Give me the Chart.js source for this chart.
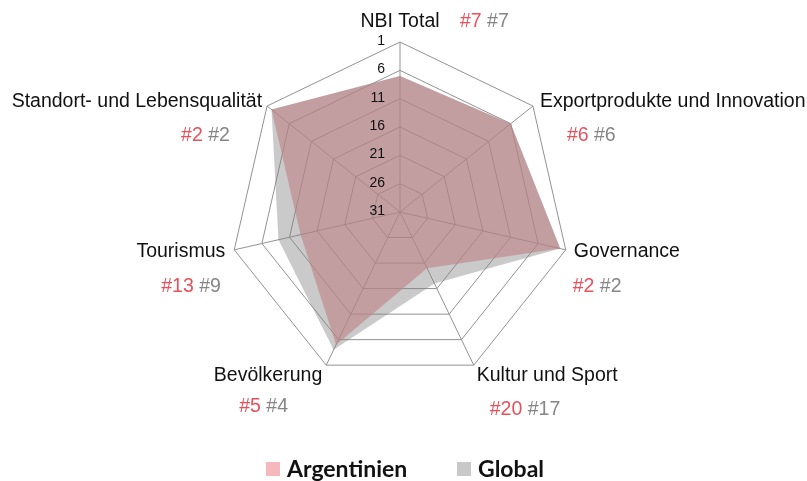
<!DOCTYPE html>
<html>
<head>
<meta charset="utf-8">
<script src="https://cdn.jsdelivr.net/npm/chart.js@4"></script>
<style>
  html, body { margin: 0; padding: 0; background: #fff; }
  #wrap { width: 807px; height: 481px; }
</style>
</head>
<body>
<div id="wrap"><canvas id="myChart" width="807" height="481"></canvas></div>
<script>
"use strict";

// data (ranks, 1 = best)
const categories = ["NBI Total", "Exportprodukte und Innovation", "Governance", "Kultur und Sport", "Bevölkerung", "Tourismus", "Standort- und Lebensqualität"];
const argentinien = [7, 6, 2, 20, 5, 13, 2];
const global = [7, 6, 2, 17, 4, 9, 2];
const tickValues = [1, 6, 11, 16, 21, 26, 31];
const seriesNames = ["Argentinien", "Global"];

// where the label texts sit, relative to each axis end
// [name dx, name dy, name align, rank dx, rank dy]
const labelLayout = [
  [0, -20, "center", 60, -20],
  [7, -4, "left", 34, 30],
  [8, 2, "left", 7, 37],
  [3, 10, "left", 16, 44],
  [-4, 10, "right", -87, 41],
  [-9, 2, "right", -73, 37],
  [-5, -4, "right", -86, 30]
];

const RED = "#e8505b";
const GREY_TXT = "#858585";
const LABEL_FONT = "19.5px 'Liberation Sans', Arial, sans-serif";

const labelsPlugin = {
  id: "labelsPlugin",
  afterDraw(chart) {
    const ctx = chart.ctx;
    const scale = chart.scales.r;
    ctx.save();

    // tick numbers on the vertical axis
    ctx.font = "14px 'Liberation Sans', Arial, sans-serif";
    ctx.fillStyle = "#111";
    ctx.textAlign = "right";
    ctx.textBaseline = "middle";
    tickValues.forEach((v) => {
      const d = scale.getDistanceFromCenterForValue(v);
      ctx.fillText(String(v), scale.xCenter - 15, scale.yCenter - d - 1);
    });

    // category names and ranks
    ctx.font = LABEL_FONT;
    categories.forEach((name, i) => {
      const p = scale.getPointPosition(i, scale.drawingArea);
      const lay = labelLayout[i];
      ctx.fillStyle = "#111";
      ctx.textAlign = lay[2];
      ctx.textBaseline = "middle";
      ctx.fillText(name, p.x + lay[0], p.y + lay[1]);

      const a = "#" + argentinien[i];
      const g = "#" + global[i];
      let x = p.x + lay[3];
      const y = p.y + lay[4];
      ctx.textAlign = "left";
      ctx.fillStyle = RED;
      ctx.fillText(a, x, y);
      x += ctx.measureText(a + " ").width;
      ctx.fillStyle = GREY_TXT;
      ctx.fillText(g, x, y);
    });

    // legend
    ctx.font = "bold 23px Lato, 'Open Sans', sans-serif";
    ctx.textBaseline = "middle";
    ctx.textAlign = "left";
    const boxes = ["#f4b8bd", "#c8c8c8"];
    const starts = [266, 457];
    seriesNames.forEach((n, i) => {
      ctx.fillStyle = boxes[i];
      ctx.fillRect(starts[i], 462, 14, 14);
      ctx.fillStyle = "#111";
      ctx.fillText(n, starts[i] + 21, 470);
    });

    ctx.restore();
  }
};

const ctx = document.getElementById("myChart").getContext("2d");
const myChart = new Chart(ctx, {
  type: "radar",
  data: {
    labels: categories,
    datasets: [
      {
        label: seriesNames[0],
        data: argentinien,
        backgroundColor: "rgba(192, 130, 134, 0.6)",
        borderWidth: 0,
        pointRadius: 0,
        fill: "start"
      },
      {
        label: seriesNames[1],
        data: global,
        backgroundColor: "rgba(128, 128, 128, 0.42)",
        borderWidth: 0,
        pointRadius: 0,
        fill: "start"
      }
    ]
  },
  options: {
    responsive: false,
    animation: false,
    layout: {
      padding: { left: 230, right: 236, top: 42, bottom: 99 }
    },
    plugins: {
      legend: { display: false },
      tooltip: { enabled: false }
    },
    scales: {
      r: {
        reverse: true,
        min: 1,
        max: 31,
        ticks: { display: false, stepSize: 5 },
        grid: { color: "#929292", lineWidth: 1 },
        angleLines: { color: "#929292", lineWidth: 1 },
        pointLabels: { display: false }
      }
    }
  },
  plugins: [labelsPlugin]
});
</script>
</body>
</html>
